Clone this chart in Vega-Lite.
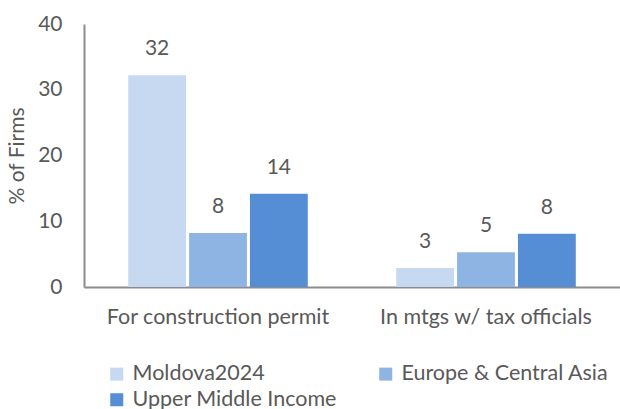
{
  "$schema": "https://vega.github.io/schema/vega-lite/v6.json",
  "autosize": "none",
  "width": 536,
  "height": 263,
  "padding": {"left": 84, "top": 24, "right": 0, "bottom": 122},
  "background": "white",
  "config": {
    "view": {"stroke": null},
    "font": "Lato",
    "text": {"font": "Lato"}
  },
  "data": {
    "values": [
      {"category": "For construction permit", "group": "Moldova2024", "value": 32.2, "label": "32"},
      {"category": "For construction permit", "group": "Europe & Central Asia", "value": 8.2, "label": "8"},
      {"category": "For construction permit", "group": "Upper Middle Income", "value": 14.2, "label": "14"},
      {"category": "In mtgs w/ tax officials", "group": "Moldova2024", "value": 2.9, "label": "3"},
      {"category": "In mtgs w/ tax officials", "group": "Europe & Central Asia", "value": 5.3, "label": "5"},
      {"category": "In mtgs w/ tax officials", "group": "Upper Middle Income", "value": 8.1, "label": "8"}
    ]
  },
  "encoding": {
    "x": {
      "field": "category", "type": "nominal", "sort": null,
      "scale": {"paddingInner": 0.33, "paddingOuter": 0.165},
      "axis": {
        "title": null, "labelAngle": 0, "ticks": false, "labelPadding": 19, "labelLimit": 0,
        "labelFontSize": 21.5, "labelColor": "#595959", "labelFont": "Lato",
        "domainColor": "#8c8c8c", "domainWidth": 2
      }
    },
    "xOffset": {
      "field": "group", "type": "nominal",
      "sort": ["Moldova2024", "Europe & Central Asia", "Upper Middle Income"],
      "scale": {"paddingInner": 0.05}
    },
    "y": {
      "field": "value", "type": "quantitative",
      "scale": {"domain": [0, 40]},
      "axis": {
        "title": "% of Firms", "values": [0, 10, 20, 30, 40], "grid": false, "ticks": false,
        "labelPadding": 22, "labelFontSize": 21, "labelColor": "#595959", "labelFont": "Lato",
        "titleFontSize": 21, "titleFontWeight": "normal", "titleColor": "#595959", "titleFont": "Lato",
        "titlePadding": 10,
        "domainColor": "#8c8c8c", "domainWidth": 2
      }
    }
  },
  "layer": [
    {
      "mark": {"type": "bar"},
      "encoding": {
        "color": {
          "field": "group", "type": "nominal",
          "sort": ["Moldova2024", "Europe & Central Asia", "Upper Middle Income"],
          "scale": {
            "domain": ["Moldova2024", "Europe & Central Asia", "Upper Middle Income"],
            "range": ["#c6d9f1", "#8eb4e3", "#558ed5"]
          },
          "legend": {
            "title": null, "orient": "none", "legendX": 22, "legendY": 339,
            "columns": 2, "direction": "horizontal", "labelLimit": 0,
            "symbolType": "square", "symbolSize": 170, "symbolStrokeWidth": 0,
            "labelFontSize": 21.5, "labelColor": "#595959", "labelFont": "Lato",
            "columnPadding": 38, "rowPadding": 3, "labelOffset": 5
          }
        }
      }
    },
    {
      "mark": {"type": "text", "baseline": "bottom", "dy": -16, "fontSize": 21, "color": "#595959", "font": "Lato"},
      "encoding": {
        "text": {"field": "label"}
      }
    }
  ]
}
